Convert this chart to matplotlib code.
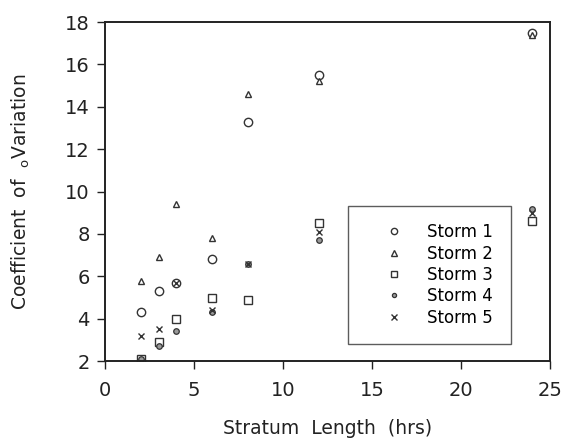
import matplotlib
matplotlib.use("Agg")
import matplotlib.pyplot as plt

plt.rcParams['font.family'] = ['DejaVu Sans']

# stratum lengths (hrs)
hours = [2, 3, 4, 6, 8, 12, 24]

# coefficient of variation per storm
storm1 = [4.3, 5.3, 5.7, 6.8, 13.3, 15.5, 17.5]
storm2 = [5.8, 6.9, 9.4, 7.8, 14.6, 15.2, 17.4]
storm3 = [2.1, 2.9, 4.0, 5.0, 4.9, 8.5, 8.6]
storm4 = [2.1, 2.7, 3.4, 4.3, 6.6, 7.7, 9.2]
storm5 = [3.2, 3.5, 5.7, 4.4, 6.6, 8.1, 9.0]

labels = ["Storm 1", "Storm 2", "Storm 3", "Storm 4", "Storm 5"]

fig = plt.figure(figsize=(5.62, 4.42), dpi=100)
ax = fig.add_axes([0.187, 0.183, 0.792, 0.767])

#each storm gets its own hollow marker
ax.plot(hours, storm1, ls='none', marker='o', ms=6, mfc='white', mec='#333', mew=1.0, label=labels[0])
ax.plot(hours, storm2, ls='none', marker='^', ms=5, mfc='white', mec='#333', mew=1.0, label=labels[1])
ax.plot(hours, storm3, ls='none', marker='s', ms=5.5, mfc='white', mec='#333', mew=1.0, label=labels[2])
ax.plot(hours, storm4, ls='none', marker='o', ms=4, mfc='#999', mec='#333', mew=0.9, label=labels[3])
ax.plot(hours, storm5, ls='none', marker='x', ms=5, mec='#333', mew=1.0, label=labels[4])

ax.set_xlim(0, 25)
ax.set_ylim(2, 18)
ax.set_xticks([0, 5, 10, 15, 20, 25])
ax.set_yticks(range(2, 19, 2))
ax.tick_params(direction='out', length=6, width=1, labelsize=14, colors='#222')
ax.tick_params(axis='x', pad=8)
ax.tick_params(axis='y', pad=5)

for s in ax.spines.values():
    s.set_linewidth(1.4)
    s.set_color('#222')

ax.set_xlabel("Stratum  Length  (hrs)", fontsize=13.5, color='#222', labelpad=14)
ax.set_ylabel(r"Coefficient  of  $_{\mathrm{o}}$Variation", fontsize=13.5, color='#222', labelpad=24)

leg = ax.legend(loc='lower left', bbox_to_anchor=(0.546, 0.05), fontsize=12,
                frameon=True, fancybox=False, edgecolor='#333', handlelength=3.4,
                handletextpad=0.3, borderpad=1.05, labelspacing=0.2, markerscale=0.75,
                borderaxespad=0)
leg.get_frame().set_linewidth(1.0)

fig.savefig("out.png", dpi=100)
